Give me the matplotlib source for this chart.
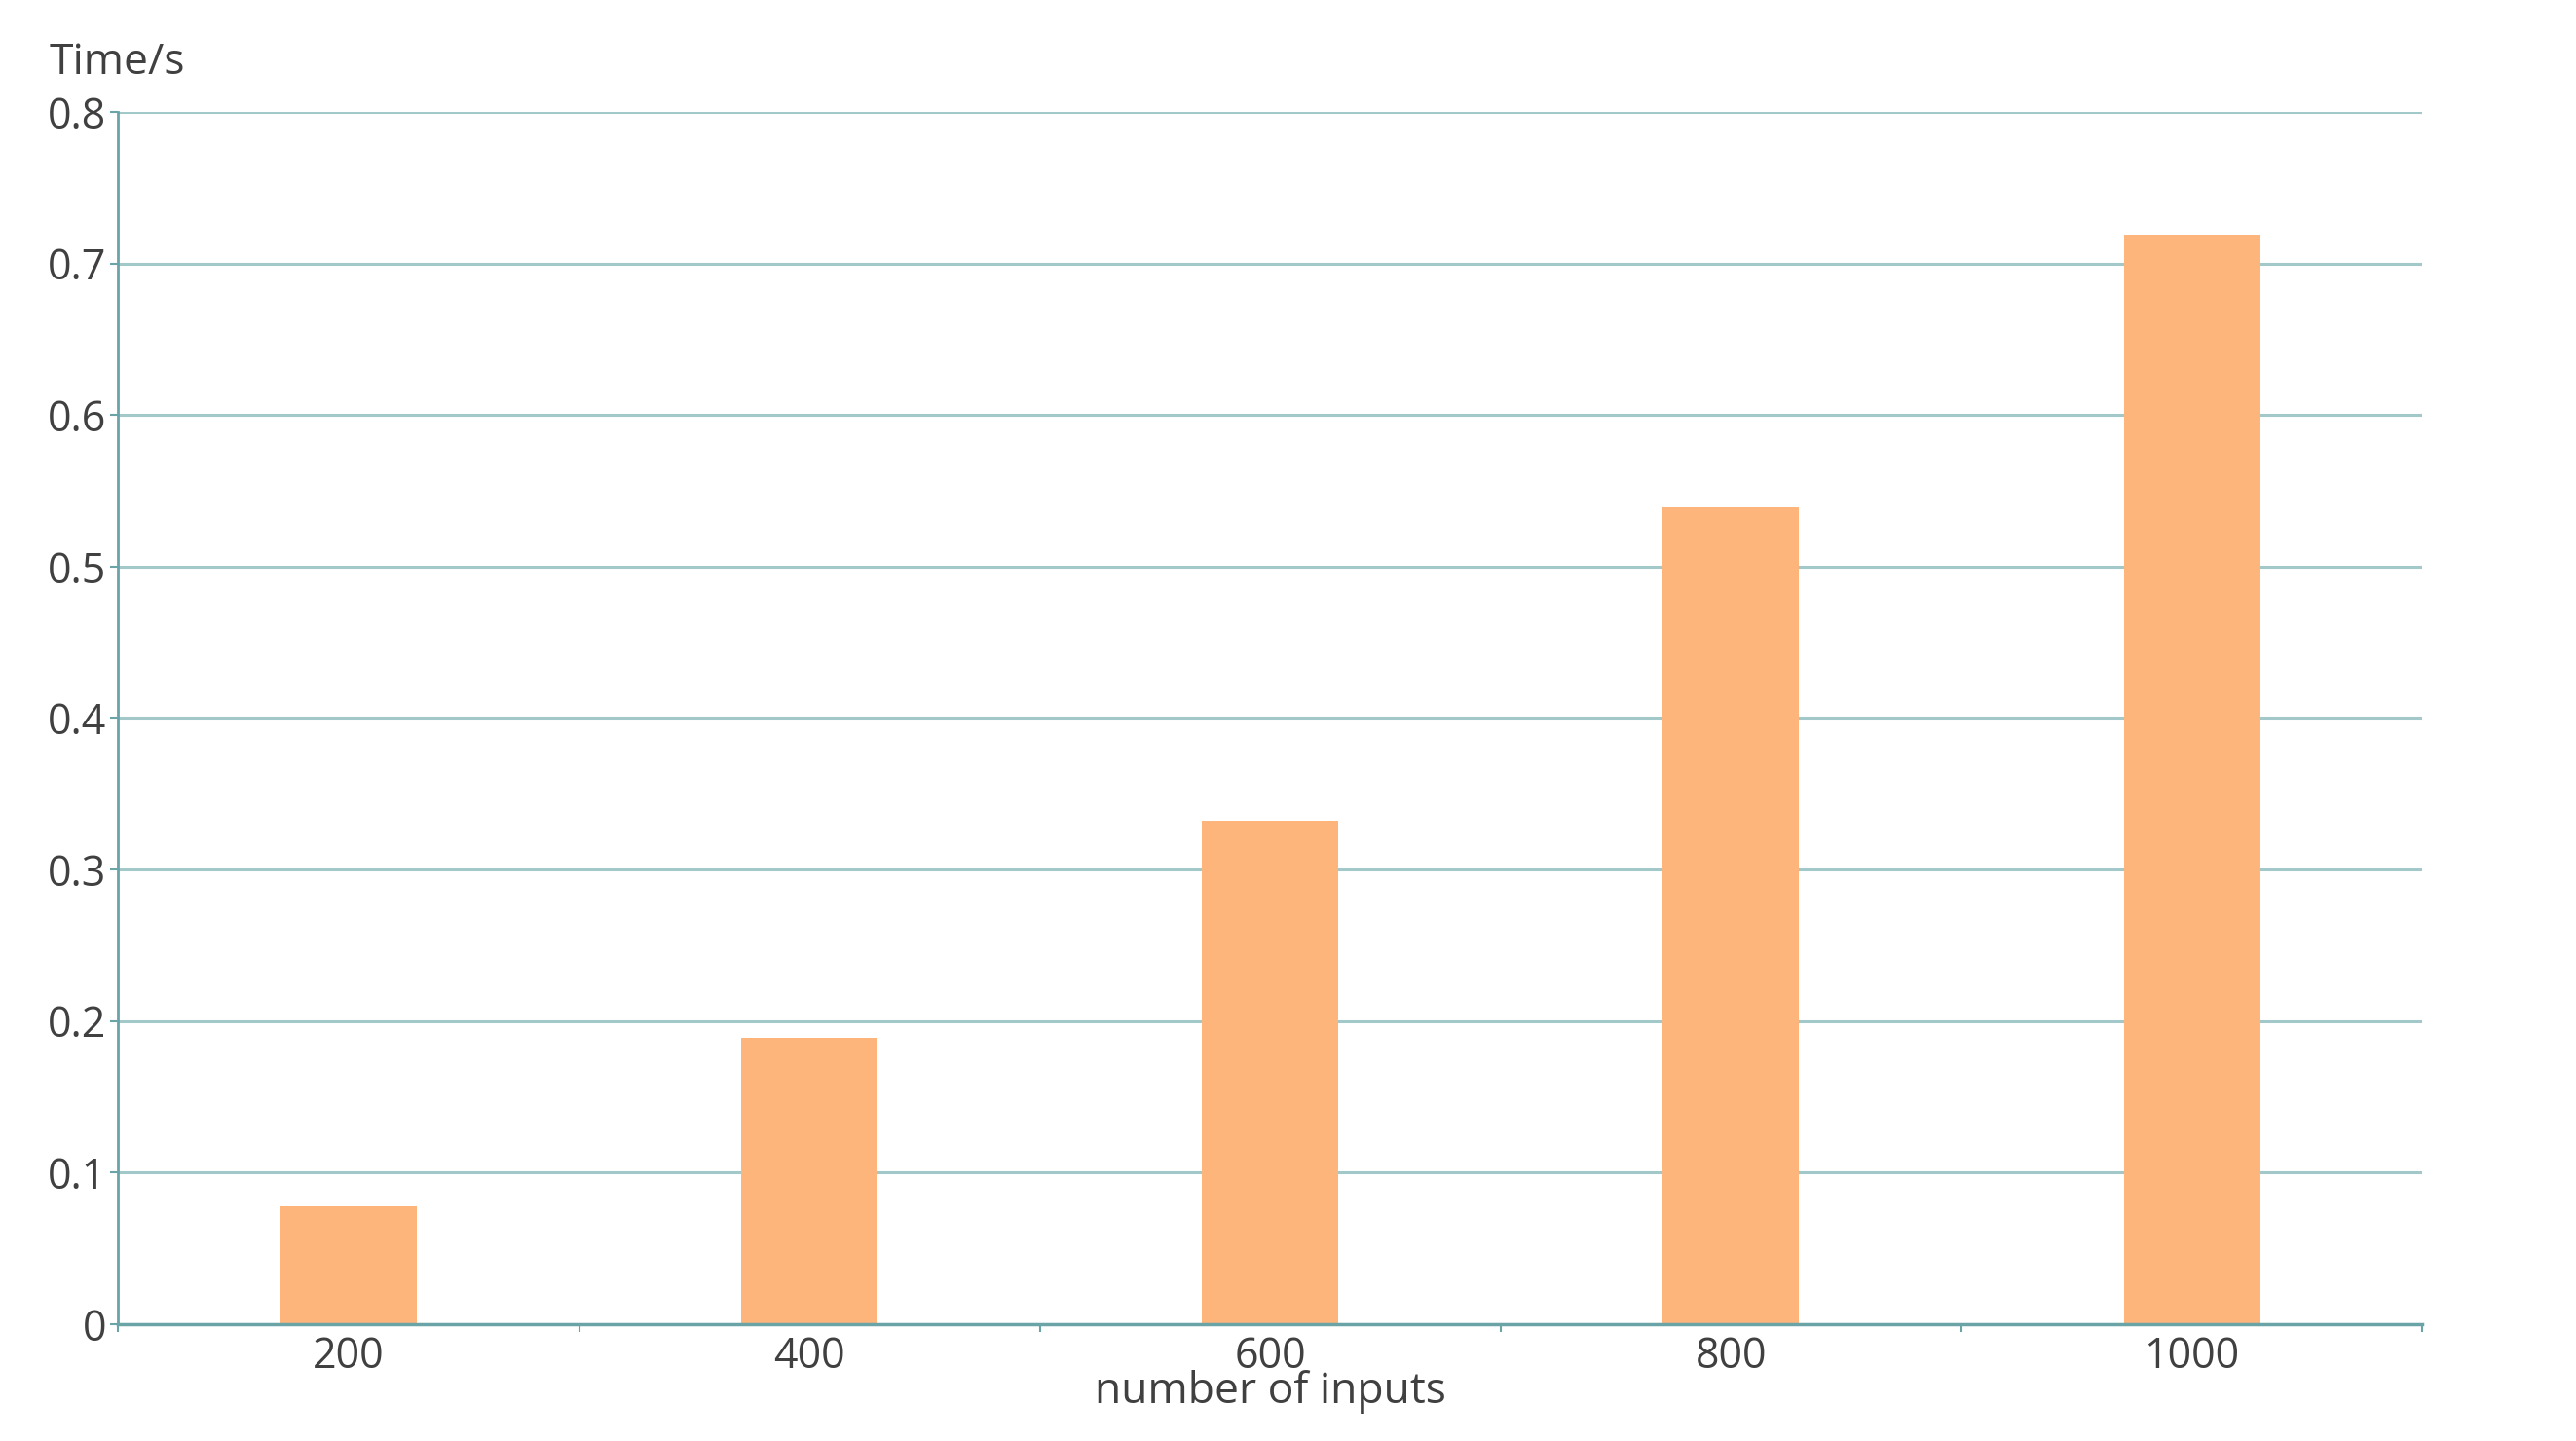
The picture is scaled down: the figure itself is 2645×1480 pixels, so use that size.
import matplotlib.pyplot as plt
import numpy as np

# number of inputs vs run time
inputs = ["200", "400", "600", "800", "1000"]
times = [0.078, 0.189, 0.332, 0.539, 0.719]
y_ticks = [0, 0.1, 0.2, 0.3, 0.4, 0.5, 0.6, 0.7, 0.8]
y_labels = ["0", "0.1", "0.2", "0.3", "0.4", "0.5", "0.6", "0.7", "0.8"]

bar_color = "#FDB57C"
grid_color = "#A3C8CA"
axis_color = "#6AA4A7"
text_color = "#404040"

plt.rcParams["font.family"] = ["Open Sans", "DejaVu Sans"]

fig = plt.figure(figsize=(26.45, 14.8), dpi=100)
ax = fig.add_axes([0.0459, 0.0811, 0.8944, 0.8412])

x = np.arange(len(inputs))
ax.bar(x, times, width=0.296, color=bar_color, zorder=3)

ax.set_xlim(-0.5, len(inputs) - 0.5)
ax.set_ylim(0, 0.8)
ax.set_yticks(y_ticks)
ax.set_yticklabels(y_labels)
ax.yaxis.grid(True, color=grid_color, linewidth=2.2, zorder=0)

ax.set_xticks(x)
ax.set_xticklabels(inputs)
ax.set_xticks(np.arange(-0.5, len(inputs), 1.0), minor=True)
ax.tick_params(axis="x", which="major", length=0, pad=8,
               labelsize=31, labelcolor=text_color)
ax.tick_params(axis="x", which="minor", length=6, width=1.5, color=axis_color)
ax.tick_params(axis="y", length=6, width=1.5, color=axis_color, pad=3,
               labelsize=31, labelcolor=text_color)

for side in ["top", "right"]:
    ax.spines[side].set_visible(False)
ax.spines["left"].set_color(axis_color)
ax.spines["bottom"].set_color(axis_color)
ax.spines["left"].set_linewidth(2)
ax.spines["bottom"].set_linewidth(2.5)
ax.spines["bottom"].set_zorder(4)

fig.text(0.0193, 0.956, "Time/s", fontsize=32, color=text_color,
         ha="left", va="center")
ax.set_xlabel("number of inputs", fontsize=32, color=text_color, labelpad=-6)

fig.savefig("out.png", dpi=100, facecolor="white")
